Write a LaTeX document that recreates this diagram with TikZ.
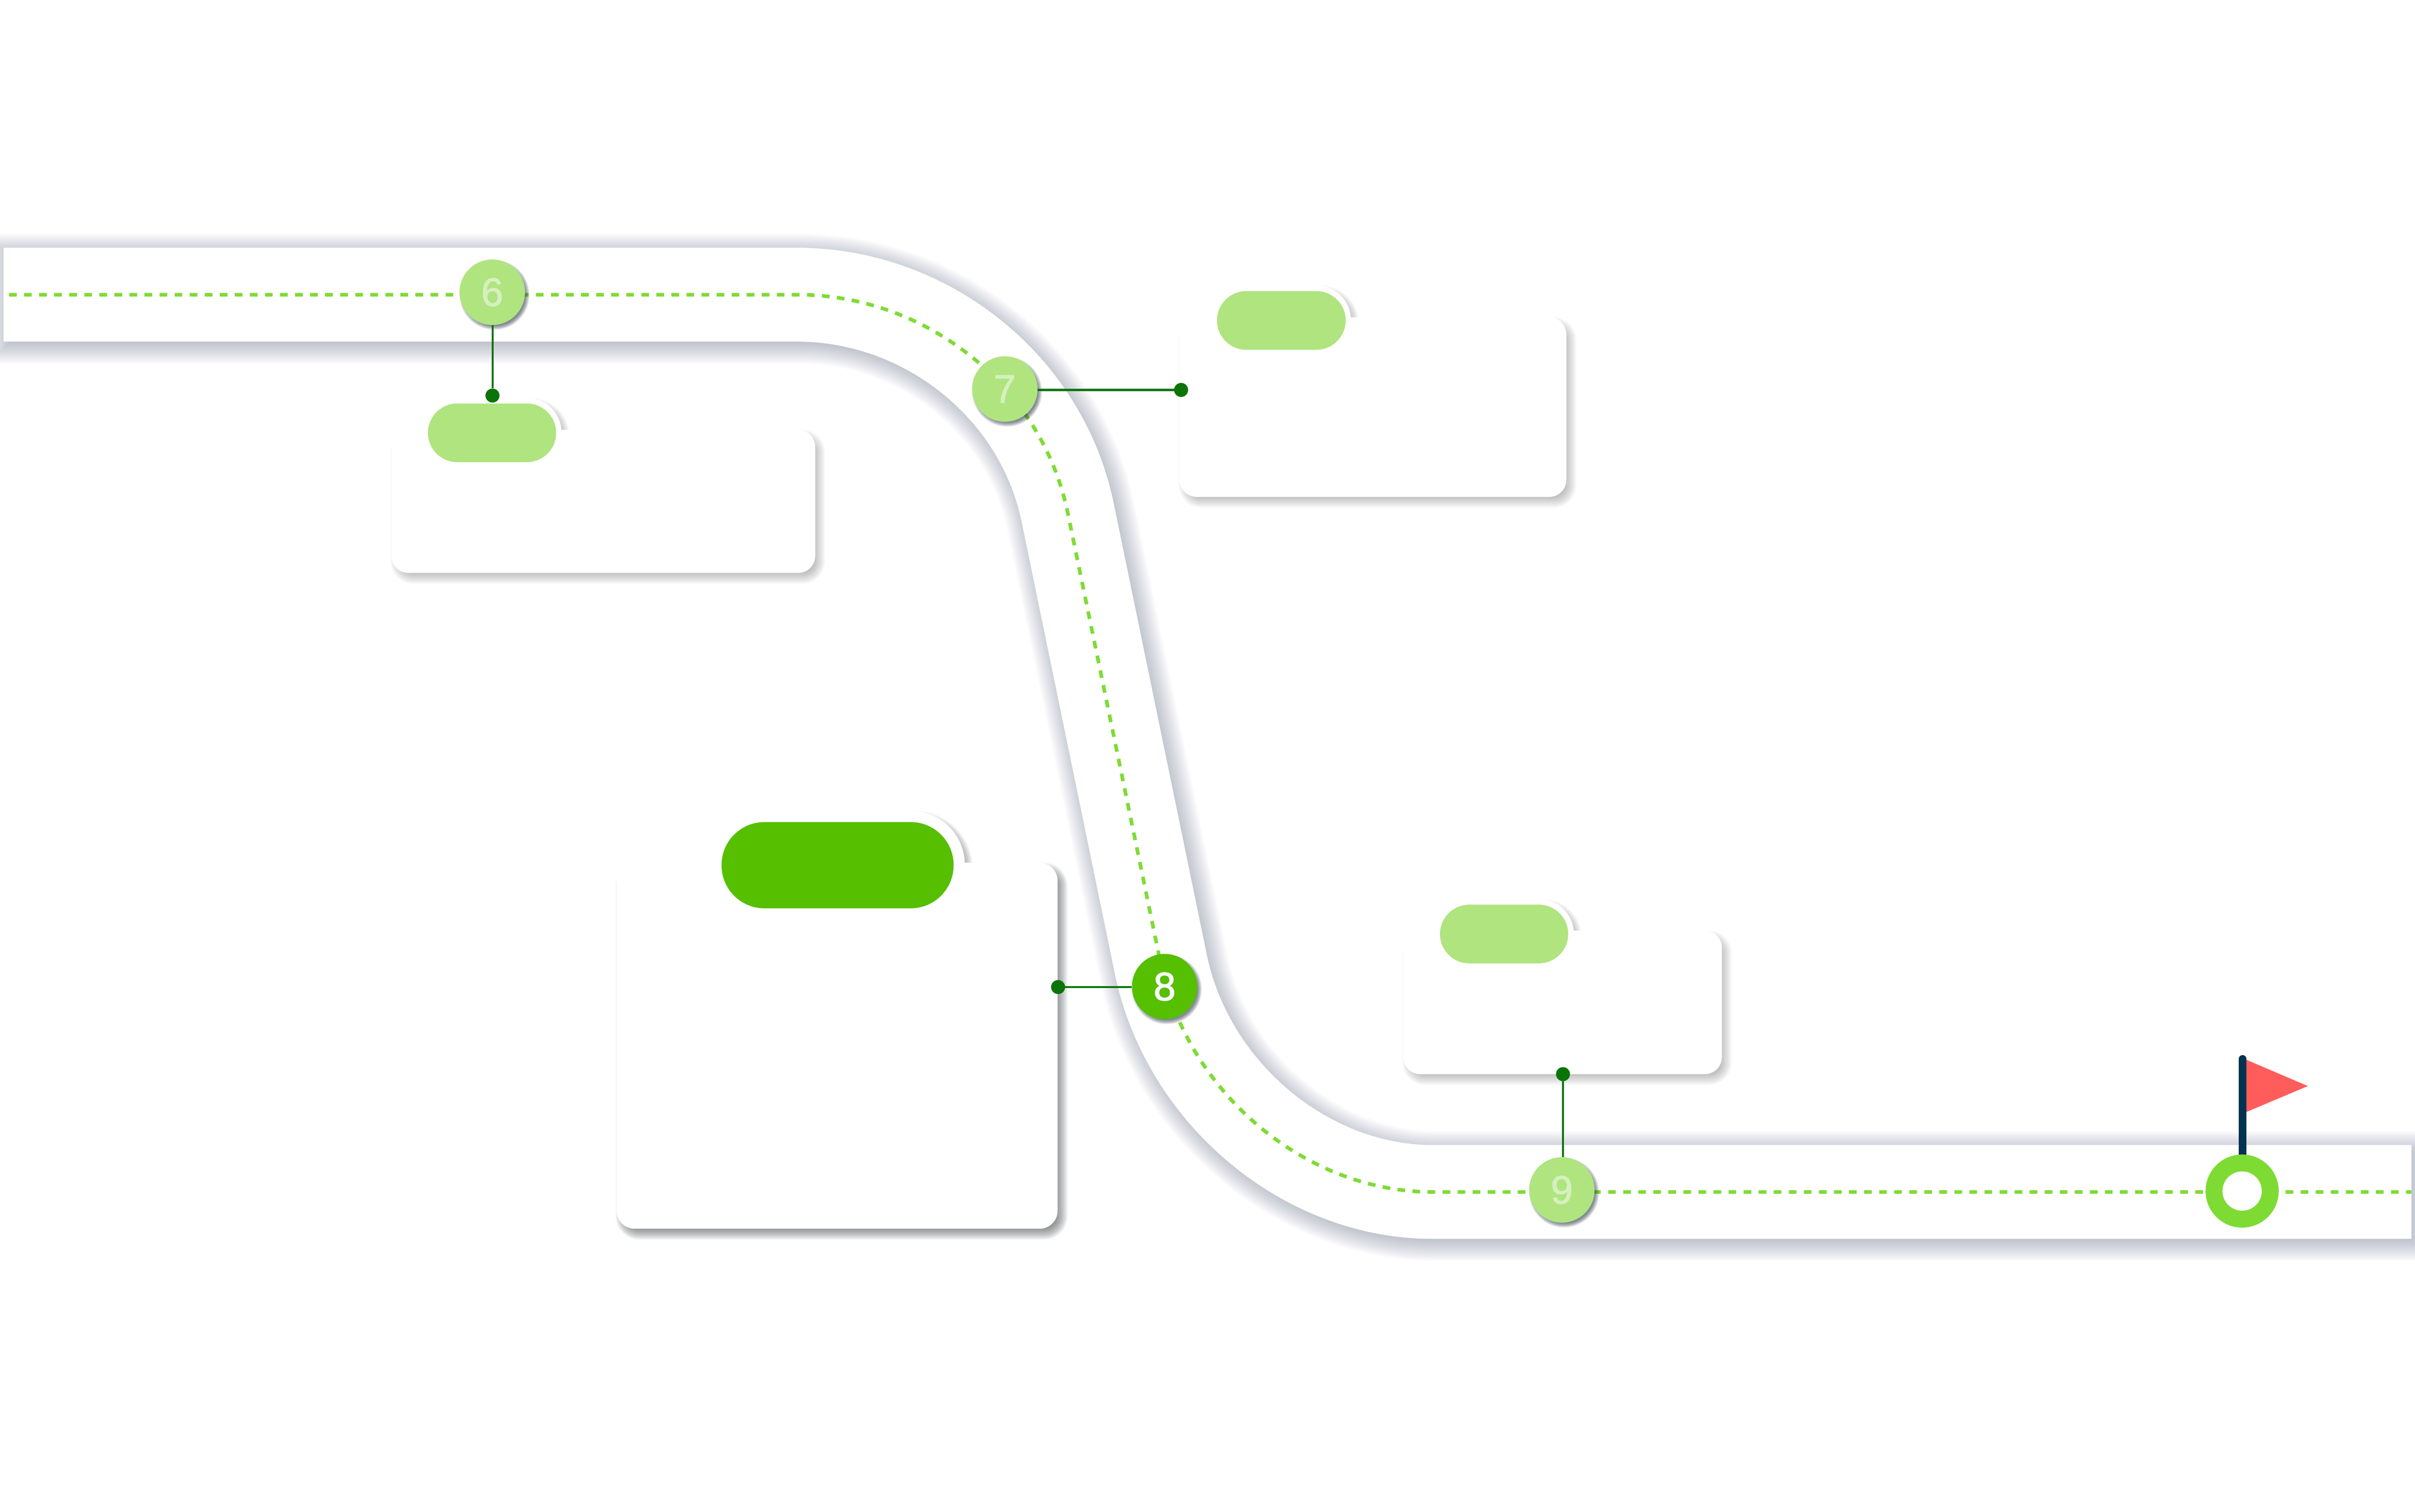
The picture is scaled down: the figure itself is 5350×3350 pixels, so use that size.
\documentclass[tikz,border=0pt]{standalone}
\usepackage{fontspec}
\setmainfont{Liberation Sans}
\newfontfamily\digitfont[FakeBold=1.8]{Liberation Sans}
\definecolor{dashgreen}{HTML}{7EDB34}
\definecolor{pale}{HTML}{AFE47F}
\definecolor{deep}{HTML}{55BF00}
\definecolor{wire}{HTML}{0B7408}
\definecolor{digitpale}{HTML}{D5F0BD}
\definecolor{pole}{HTML}{023452}
\definecolor{pennant}{HTML}{FF5C5C}
\definecolor{roadshade}{HTML}{5A6B80}
\definecolor{cardshade}{HTML}{4A4C50}
\definecolor{stopshade}{HTML}{2E3A4C}
% centre x, centre y, width, height, radius, dx, dy, blur, colour+opacity
\newcommand\softbox[9]{%
  \foreach \i in {1,...,12}{%
    \pgfmathsetmacro\e{#8*(1-2*(\i-1)/11)}%
    \pgfmathsetmacro\rr{max(#5+\e,1)}%
    \pgfmathsetmacro\xa{#1+#6-#3/2-\e}\pgfmathsetmacro\xb{#1+#6+#3/2+\e}%
    \pgfmathsetmacro\ya{#2+#7-#4/2-\e}\pgfmathsetmacro\yb{#2+#7+#4/2+\e}%
    \fill[#9,rounded corners=\rr pt] (\xa,\ya) rectangle (\xb,\yb);
  }}
\newcommand\roadline[2]{(8-#1,653) -- (1767,653)
   .. controls (2047,653) and (2307,852) .. (2365.5,1137)
   -- (2571.5,2136)
   .. controls (2630,2421) and (2892,2641) .. (3173,2641)
   -- (5342+#2,2641)}
\tikzset{
  cardbox/.style={fill=white,rounded corners=#1,inner sep=0pt},
  pillbox/.style={inner sep=0pt,rounded corners=#1},
  stopnode/.style={circle,inner sep=0pt,minimum size=145pt,font=\digitfont\fontsize{88}{88}\selectfont},
  enddot/.style={circle,fill=wire,inner sep=0pt,minimum size=31pt},
  wireline/.style={draw=wire,line width=4.5pt},
}
\begin{document}
\begin{tikzpicture}[x=1pt,y=-1pt]
\useasboundingbox (0,0) rectangle (5350,3350);
\fill[white] (0,0) rectangle (5350,3350);
% road
\begin{scope}[shift={(7,9)}]
\foreach \i in {1,...,30}{
  \pgfmathsetmacro\ee{40*(1-2*(\i-1)/29)}
  \pgfmathsetmacro\w{208+2*\ee}
  \draw[roadshade,opacity=0.025,line width=\w pt] \roadline{\ee}{\ee};
}
\end{scope}
\draw[white,line width=208pt] \roadline{0}{0};
\draw[dashgreen,line width=8pt,dash pattern=on 17pt off 16.35pt,dash phase=21.35pt] \roadline{0}{0};
% card 6
\softbox{1336.5}{1111}{939}{317}{38}{10}{12}{12}{cardshade,opacity=0.03}
\softbox{1090}{959}{308}{155}{77}{9}{9}{9}{cardshade,opacity=0.03}
\node[cardbox=38pt,minimum width=939pt,minimum height=317pt] (c6) at (1336.5,1111) {};
\node[pillbox=77pt,fill=white,minimum width=308pt,minimum height=155pt] (o6) at (1090,959) {};
\node[pillbox=65pt,fill=pale,minimum width=284pt,minimum height=130pt] (p6) at (1090,959) {};
% card 7
\softbox{3041.5}{902}{857}{398}{38}{10}{12}{12}{cardshade,opacity=0.03}
\softbox{2838.5}{710}{309}{155}{77}{9}{9}{9}{cardshade,opacity=0.03}
\node[cardbox=38pt,minimum width=857pt,minimum height=398pt] (c7) at (3041.5,902) {};
\node[pillbox=77pt,fill=white,minimum width=309pt,minimum height=155pt] (o7) at (2838.5,710) {};
\node[pillbox=65pt,fill=pale,minimum width=285pt,minimum height=130pt] (p7) at (2838.5,710) {};
% card 8
\softbox{1854.5}{2317}{977}{811}{40}{10}{12}{12}{cardshade,opacity=0.065}
\softbox{1855.5}{1917}{564}{241}{120}{9}{9}{9}{cardshade,opacity=0.045}
\node[cardbox=40pt,minimum width=977pt,minimum height=811pt] (c8) at (1854.5,2317) {};
\node[pillbox=120pt,fill=white,minimum width=564pt,minimum height=241pt] (o8) at (1855.5,1917) {};
\node[pillbox=95pt,fill=deep,minimum width=514pt,minimum height=191pt] (p8) at (1855.5,1917) {};
% card 9
\softbox{3461.5}{2221}{706}{318}{38}{10}{12}{12}{cardshade,opacity=0.03}
\softbox{3332}{2069.5}{309}{155}{77}{9}{9}{9}{cardshade,opacity=0.03}
\node[cardbox=38pt,minimum width=706pt,minimum height=318pt] (c9) at (3461.5,2221) {};
\node[pillbox=77pt,fill=white,minimum width=309pt,minimum height=155pt] (o9) at (3332,2069.5) {};
\node[pillbox=65pt,fill=pale,minimum width=284pt,minimum height=130pt] (p9) at (3332,2069.5) {};
% stops
\softbox{1090.5}{647.5}{145}{145}{72}{5}{6}{5}{stopshade,opacity=0.07}
\softbox{2226}{862}{145}{145}{72}{5}{6}{5}{stopshade,opacity=0.07}
\softbox{2580}{2186}{145}{145}{72}{5}{6}{5}{stopshade,opacity=0.07}
\softbox{3460}{2636.5}{145}{145}{72}{5}{6}{5}{stopshade,opacity=0.07}
\node[stopnode,fill=pale,text=digitpale] (n6) at (1090.5,647.5) {6};
\node[stopnode,fill=pale,text=digitpale] (n7) at (2226,862) {7};
\node[stopnode,fill=deep,text=white] (n8) at (2580,2186) {8};
\node[stopnode,fill=pale,text=digitpale] (n9) at (3460,2636.5) {9};
% dots and wires
\node[enddot] (d6) at (1091,876.5) {};
\node[enddot] (d7) at (2616.5,864) {};
\node[enddot] (d8) at (2344,2187) {};
\node[enddot] (d9) at (3462.5,2380) {};
\draw[wireline] (n6.south -| d6) -- (d6);
\draw[wireline] (n7.east |- d7) -- (d7);
\draw[wireline] (n8.west |- d8) -- (d8);
\draw[wireline] (n9.north -| d9) -- (d9);
% flag
\fill[pennant] (4976,2348) -- (5112.5,2406.4) -- (4976,2464) -- cycle;
\coordinate (poletop) at (4968,2346);
\coordinate (polefoot) at (4968,2600);
\draw[pole,line width=16.5pt,line cap=round] (poletop) -- (polefoot);
\node[circle,inner sep=0pt,minimum size=162pt,fill=dashgreen] (ring) at (4967,2639) {};
\node[circle,inner sep=0pt,minimum size=87pt,fill=white] (hole) at (ring) {};
\end{tikzpicture}
\end{document}
